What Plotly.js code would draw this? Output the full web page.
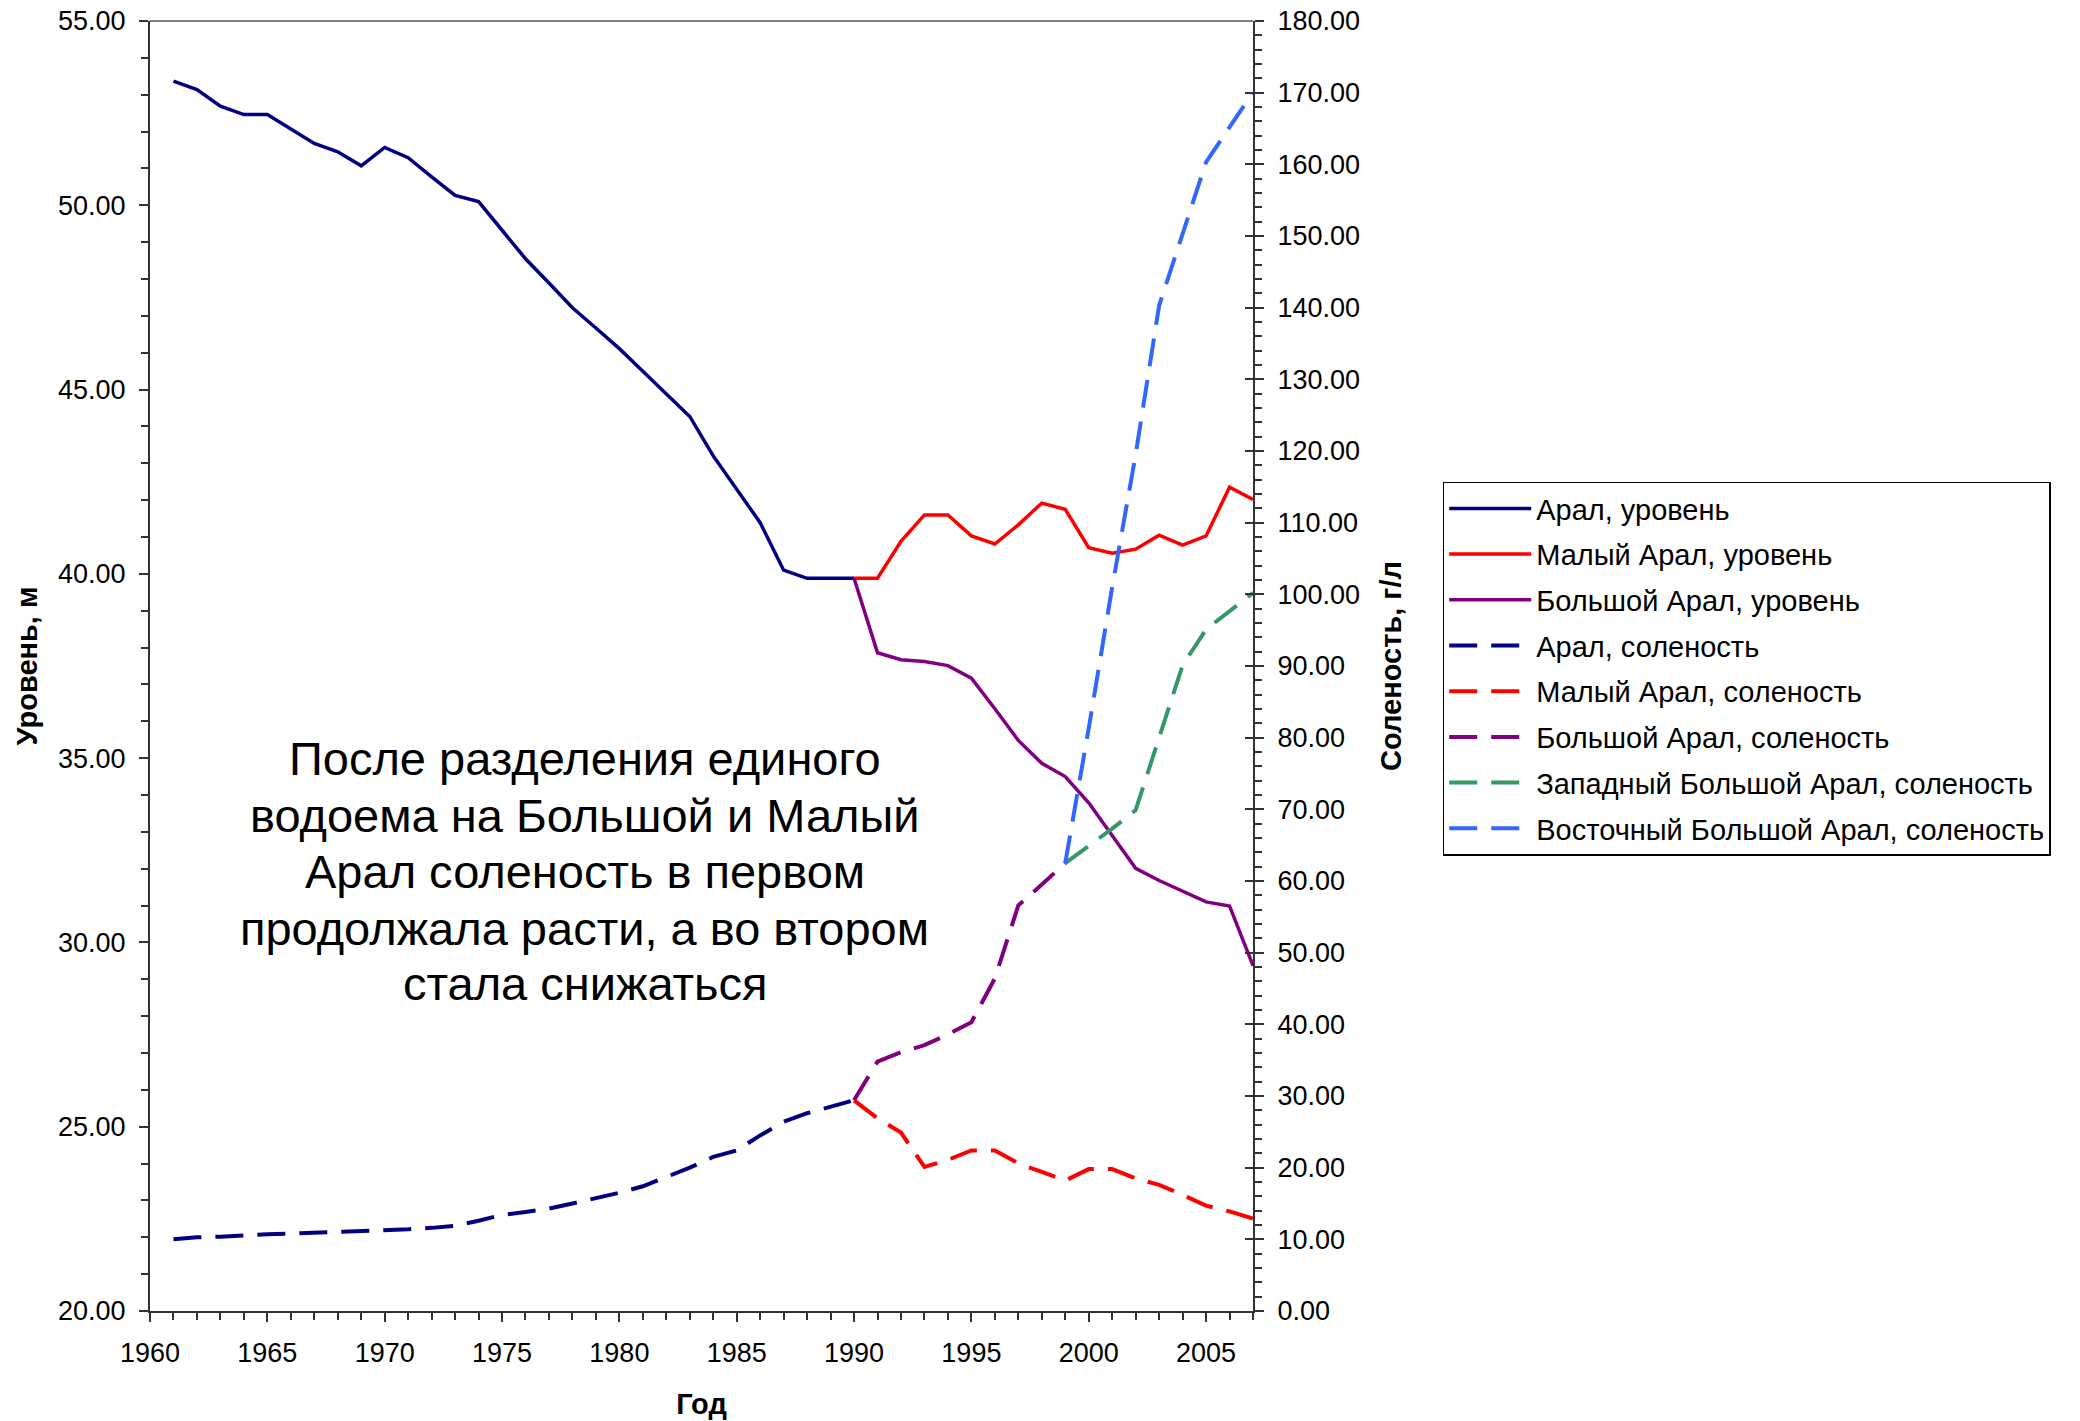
<!DOCTYPE html>
<html>
<head>
<meta charset="utf-8">
<script src="https://cdn.plot.ly/plotly-3.0.1.min.js"></script>
<style>html,body{margin:0;padding:0;background:#fff;}</style>
</head>
<body>
<div id="chart" style="width:2080px;height:1421px;"></div>
<script>
// Years
const yearsAral = [1961,1962,1963,1964,1965,1966,1967,1968,1969,1970,1971,1972,1973,1974,1975,1976,1977,1978,1979,1980,1981,1982,1983,1984,1985,1986,1987,1988,1989,1990];
const yearsSplit = [1990,1991,1992,1993,1994,1995,1996,1997,1998,1999,2000,2001,2002,2003,2004,2005,2006,2007];
const yearsBigSalt = [1990,1991,1992,1993,1994,1995,1996,1997,1998,1999];
const yearsEastWest = [1999,2000,2001,2002,2003,2004,2005,2006,2007];

// Levels, m
const aralLevel = [53.37,53.14,52.69,52.46,52.46,52.08,51.68,51.45,51.07,51.57,51.29,50.77,50.27,50.10,49.32,48.55,47.89,47.22,46.67,46.11,45.50,44.90,44.27,43.20,42.29,41.39,40.10,39.88,39.88,39.88];
const smallLevel = [39.88,39.88,40.88,41.60,41.60,41.03,40.81,41.33,41.92,41.75,40.71,40.56,40.67,41.05,40.78,41.03,42.35,42.02];
const bigLevel = [39.88,37.86,37.67,37.62,37.51,37.17,36.34,35.48,34.86,34.50,33.79,32.91,32.01,31.68,31.39,31.10,30.99,29.37];

// Salinity, g/l
const aralSalt = [10.0,10.28,10.37,10.6,10.7,10.8,10.9,11.05,11.2,11.3,11.4,11.6,11.9,12.6,13.4,13.8,14.3,15.0,15.7,16.5,17.4,18.7,20.0,21.5,22.4,24.5,26.4,27.6,28.5,29.4];
const smallSalt = [29.4,26.9,24.9,20.1,21.1,22.4,22.4,20.6,19.4,18.2,19.8,19.8,18.5,17.6,16.2,14.7,13.9,12.9];
const bigSalt = [29.4,34.8,36.1,37.1,38.6,40.3,46.4,56.6,59.5,62.5];
const westSalt = [62.5,64.9,67.3,69.9,80.0,90.1,95.1,97.6,100.2];
const eastSalt = [62.5,81.3,101.0,119.5,140.3,150.5,160.3,165.2,170.0];

const names = ['Арал, уровень','Малый Арал, уровень','Большой Арал, уровень','Арал, соленость','Малый Арал, соленость','Большой Арал, соленость','Западный Большой Арал, соленость','Восточный Большой Арал, соленость'];
const colors = ['#000080','#FF0000','#800080','#000080','#FF0000','#800080','#339966','#3366FF'];

const noteLines = ['После разделения единого','водоема на Большой и Малый','Арал соленость в первом','продолжала расти, а во втором','стала снижаться'];

const DASH = '28px,14px';
const SW = 3.5, DW = 4;

const traces = [
  {x: yearsAral, y: aralLevel, yaxis:'y'},
  {x: yearsSplit, y: smallLevel, yaxis:'y'},
  {x: yearsSplit, y: bigLevel, yaxis:'y'},
  {x: yearsAral, y: aralSalt, yaxis:'y2', dash:true},
  {x: yearsSplit, y: smallSalt, yaxis:'y2', dash:true},
  {x: yearsBigSalt, y: bigSalt, yaxis:'y2', dash:true},
  {x: yearsEastWest, y: westSalt, yaxis:'y2', dash:true},
  {x: yearsEastWest, y: eastSalt, yaxis:'y2', dash:true}
].map((t,i)=>({
  type:'scatter', mode:'lines', x:t.x, y:t.y, yaxis:t.yaxis,
  name: names[i], legendgroup:'g'+i,
  line:{color:colors[i], width: t.dash?DW:SW, dash: t.dash?DASH:'solid'},
  hoverinfo:'x+y+name'
}));
traces.push({type:'scatter', mode:'lines', x:[], y:[], yaxis:'y3', showlegend:false, hoverinfo:'skip'});

const axisCol = '#333333';
const FAM = 'Arial, "Liberation Sans", sans-serif';
const tickFont = {size:27, color:'#000', family:FAM};
const titleFont = {size:29, color:'#000', family:FAM};

// note block: line centres in paper fraction
const noteY = [0.4283, 0.3841, 0.3409, 0.2967, 0.2535];
const annotations = noteLines.map((t,i)=>({
  xref:'paper', yref:'paper', x:0.394, y:noteY[i], xanchor:'center', yanchor:'middle', showarrow:false,
  text:t, font:{size:47, color:'#000', family:FAM}
}));

const layout = {
  width:2080, height:1421,
  margin:{l:150, r:827, t:21, b:110, autoexpand:false},
  paper_bgcolor:'#fff', plot_bgcolor:'#fff',
  font:{family:FAM, color:'#000'},
  showlegend:true,
  legend:{x:1.172, y:0.643, xanchor:'left', yanchor:'top', bordercolor:'#000', borderwidth:1.5,
    bgcolor:'#fff', font:{size:29, color:'#000', family:FAM}, traceorder:'grouped', tracegroupgap:5, itemwidth:82},
  xaxis:{range:[1960,2007], tick0:1960, dtick:5, ticks:'outside', ticklen:9, tickwidth:1.5, tickcolor:axisCol,
    showline:true, linecolor:axisCol, linewidth:2, showgrid:false, zeroline:false, tickfont:tickFont,
    ticklabelstandoff:8,
    minor:{dtick:1, tick0:1960, ticks:'outside', ticklen:7, tickwidth:1.5, tickcolor:axisCol, showgrid:false},
    title:{text:'<b>Год</b>', font:titleFont, standoff:26}, automargin:false, fixedrange:true},
  yaxis:{range:[20,55], tick0:20, dtick:5, tickformat:'.2f', ticks:'outside', ticklen:9, tickwidth:1.5, tickcolor:axisCol,
    showline:true, linecolor:axisCol, linewidth:2, showgrid:false, zeroline:false, tickfont:tickFont,
    ticklabelstandoff:8,
    minor:{dtick:1, ticks:'outside', ticklen:7, tickwidth:1.5, tickcolor:axisCol, showgrid:false},
    title:{text:'<b>Уровень, м</b>', font:titleFont, standoff:12}, automargin:false, fixedrange:true},
  yaxis2:{range:[0,180], tick0:0, dtick:10, tickformat:'.2f', overlaying:'y', side:'right', anchor:'x',
    ticks:'outside', ticklen:9, tickwidth:1.5, tickcolor:axisCol,
    showline:true, linecolor:axisCol, linewidth:2, showgrid:false, zeroline:false, tickfont:tickFont,
    ticklabelstandoff:8,
    minor:{dtick:2, ticks:'outside', ticklen:7, tickwidth:1.5, tickcolor:axisCol, showgrid:false},
    title:{text:'<b>Соленость, г/л</b>', font:titleFont, standoff:22}, automargin:false, fixedrange:true},
  yaxis3:{range:[0,180], tick0:0, dtick:10, overlaying:'y', side:'right', anchor:'x',
    ticks:'inside', ticklen:8, tickwidth:1.5, tickcolor:axisCol, showticklabels:false,
    showline:false, showgrid:false, zeroline:false, fixedrange:true},
  shapes:[{type:'line', xref:'paper', yref:'paper', x0:0, x1:1, y0:1, y1:1, line:{color:'#808080', width:2}}],
  annotations: annotations
};

Plotly.newPlot('chart', traces, layout, {displayModeBar:false, responsive:false});
</script>
</body>
</html>
